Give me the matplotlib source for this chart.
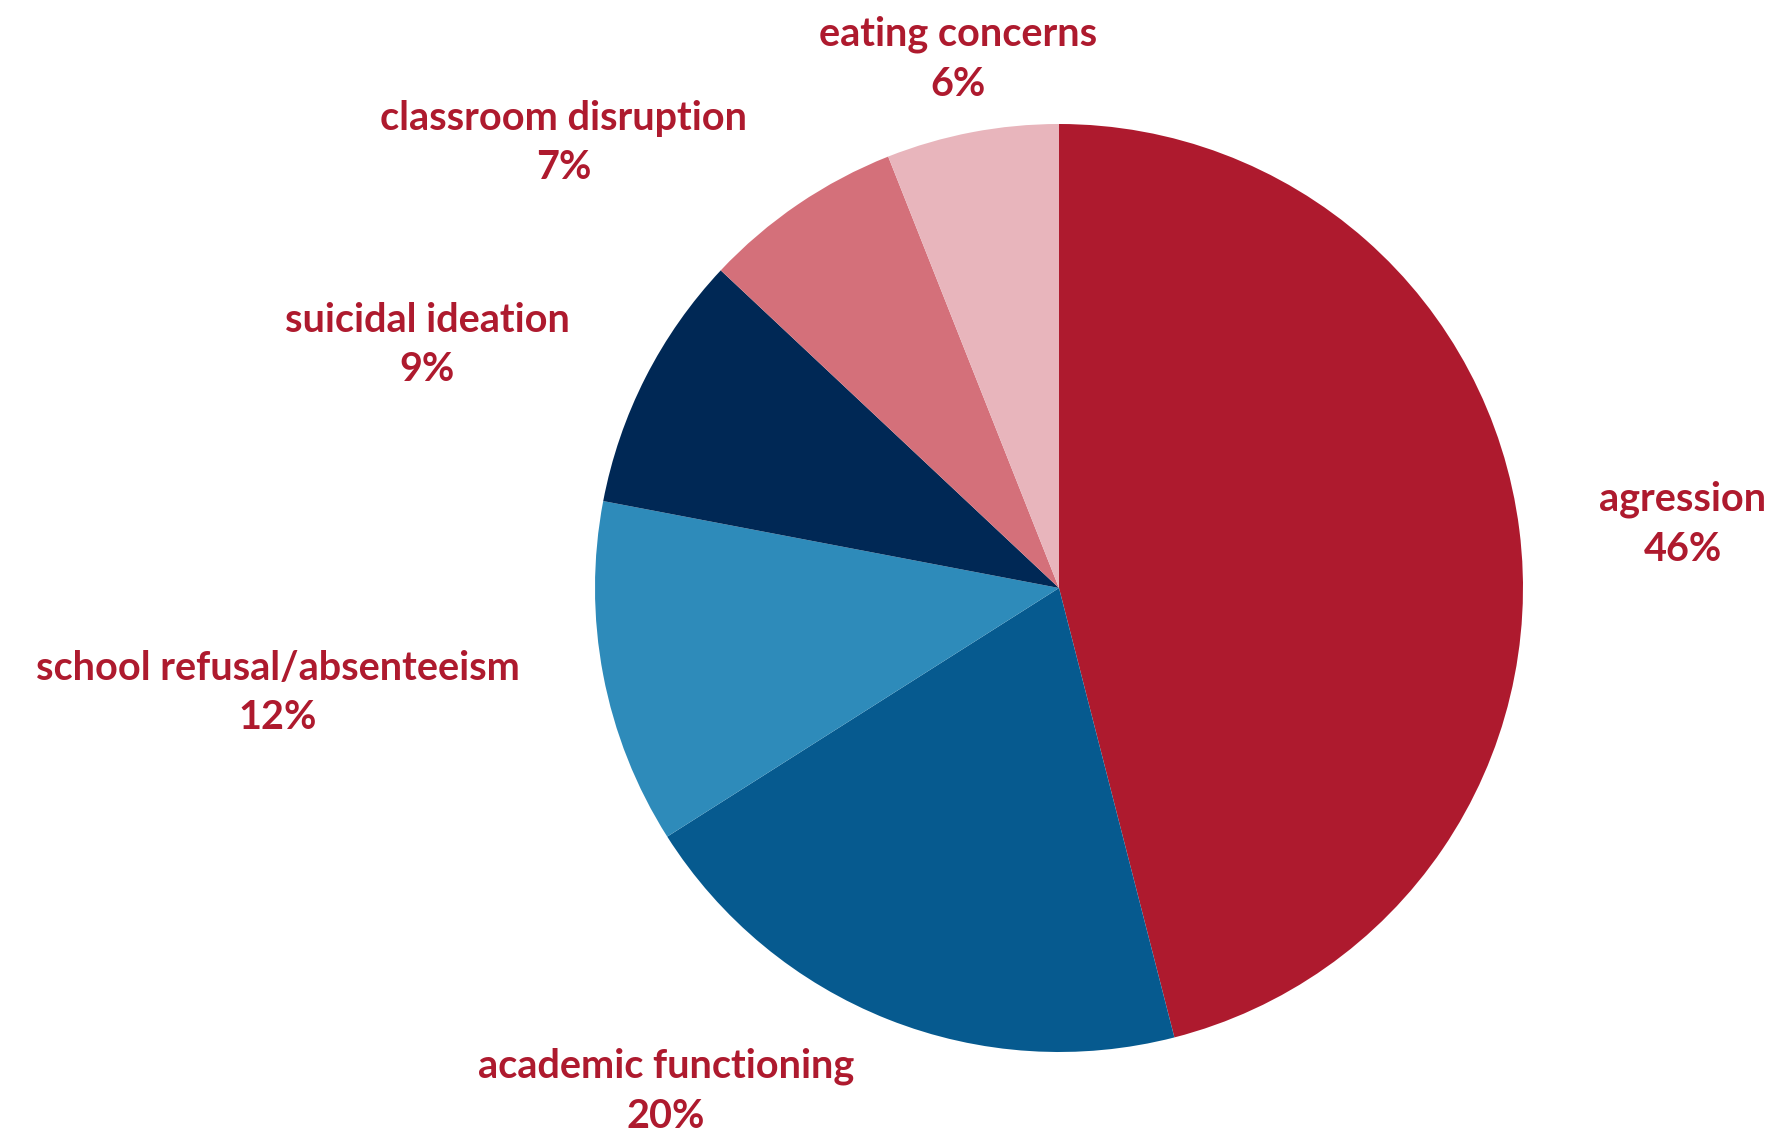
import matplotlib
matplotlib.use("Agg")
import matplotlib.pyplot as plt

categories = ["agression", "academic functioning", "school refusal/absenteeism",
              "suicidal ideation", "classroom disruption", "eating concerns"]
values = [46, 20, 12, 9, 7, 6]
colors = ["#AE1A2E", "#065A8F", "#2E8BBA", "#002855", "#D4707A", "#E8B5BC"]
text_color = "#AE1A2E"

# label centres in pixel layout (x, y from top)
label_pos = [(1683, 524), (666, 1091), (278, 693), (427, 345), (564, 143), (958, 59)]

W, H = 1771, 1133
fig = plt.figure(figsize=(W / 100, H / 100), dpi=100)
ax = fig.add_axes([0, 0, 1, 1])

ax.pie(values, colors=colors, startangle=90, counterclock=False,
       center=(1059, H - 588), radius=464, frame=True,
       wedgeprops=dict(linewidth=0))
ax.set_xlim(0, W)
ax.set_ylim(0, H)
ax.set_aspect("equal")
ax.axis("off")

for cat, v, (x, y) in zip(categories, values, label_pos):
    ax.text(x, H - y, f"{cat}\n{v}%", ha="center", va="center",
            fontsize=28.5, fontweight="bold", family=["Lato", "DejaVu Sans"],
            color=text_color, linespacing=1.42)

fig.savefig("out.png", dpi=100)
